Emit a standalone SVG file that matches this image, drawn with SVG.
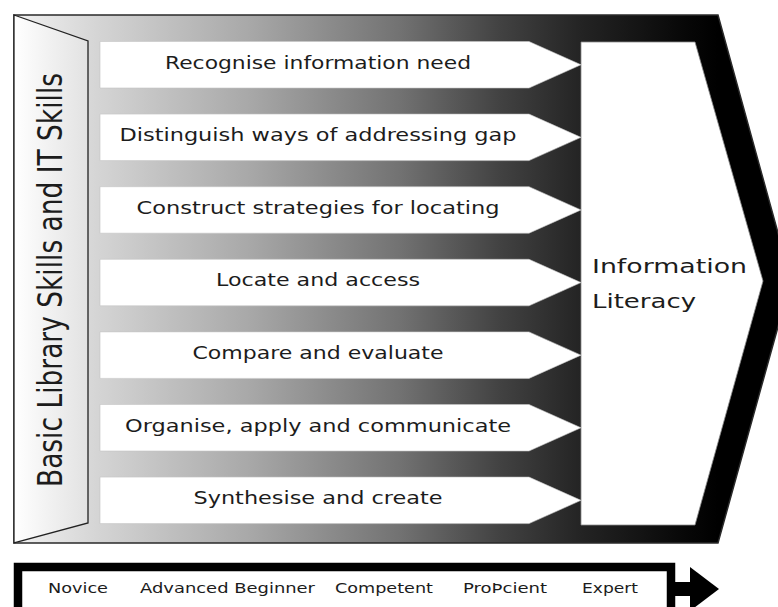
<svg xmlns="http://www.w3.org/2000/svg" width="778" height="607" viewBox="0 0 778 607">
  <defs>
    <linearGradient id="bandShade" gradientUnits="userSpaceOnUse" x1="14" y1="0" x2="718" y2="0">
      <stop offset="0" stop-color="#f2f2f2"/>
      <stop offset="0.122" stop-color="#d4d4d4"/>
      <stop offset="0.335" stop-color="#a8a8a8"/>
      <stop offset="0.548" stop-color="#727272"/>
      <stop offset="0.69" stop-color="#424242"/>
      <stop offset="0.804" stop-color="#242424"/>
      <stop offset="0.95" stop-color="#080808"/>
      <stop offset="1" stop-color="#000000"/>
    </linearGradient>
    <linearGradient id="panelShade" gradientUnits="userSpaceOnUse" x1="14" y1="0" x2="88" y2="0">
      <stop offset="0" stop-color="#ffffff"/>
      <stop offset="1" stop-color="#e2e2e2"/>
    </linearGradient>
  </defs>
  <style>
    .step { fill: #ffffff; stroke: #c4c4c4; stroke-width: 0.6; }
    .label { font-family: "DejaVu Sans", Verdana, sans-serif; fill: #1c1c1c; }
    .row { font-size: 17px; text-anchor: middle; }
    .goal { font-size: 20px; }
    .stage { font-size: 14px; }
  </style>

  <!-- large chevron carrying all the steps -->
  <g id="chevron">
    <polygon points="14,15 718,15 791,280 718,543 14,543" fill="url(#bandShade)" stroke="#2a2a2a" stroke-width="1.5"/>
  </g>

  <!-- left side panel -->
  <g id="basic-skills">
    <polygon points="14,15 88,41 88,523 14,543" fill="url(#panelShade)" stroke="#222" stroke-width="1.3"/>
    <text class="label" font-size="26" text-anchor="middle" textLength="414" lengthAdjust="spacingAndGlyphs" transform="translate(62,280) scale(1.3,1) rotate(-90)">Basic Library Skills and IT Skills</text>
  </g>

  <!-- goal box -->
  <g id="information-literacy">
    <polygon points="581,42 695,42 763,281 695,525 581,525" fill="#ffffff" stroke="#8a8a8a" stroke-width="0.8"/>
    <text class="label goal" x="592" y="273" textLength="155" lengthAdjust="spacingAndGlyphs">Information</text>
    <text class="label goal" x="592" y="308" textLength="104" lengthAdjust="spacingAndGlyphs">Literacy</text>
  </g>

  <!-- step arrows -->
  <g id="step-recognise">
    <polygon class="step" points="100,41.5 529,41.5 581,64.75 529,88 100,88"/>
    <text class="label row" x="318" y="68.5" textLength="306" lengthAdjust="spacingAndGlyphs">Recognise information need</text>
  </g>
  <g id="step-distinguish">
    <polygon class="step" points="100,114.1 529,114.1 581,137.35 529,160.6 100,160.6"/>
    <text class="label row" x="318" y="141.1" textLength="397" lengthAdjust="spacingAndGlyphs">Distinguish ways of addressing gap</text>
  </g>
  <g id="step-construct">
    <polygon class="step" points="100,186.7 529,186.7 581,209.95 529,233.2 100,233.2"/>
    <text class="label row" x="318" y="213.7" textLength="363" lengthAdjust="spacingAndGlyphs">Construct strategies for locating</text>
  </g>
  <g id="step-locate">
    <polygon class="step" points="100,259.3 529,259.3 581,282.55 529,305.8 100,305.8"/>
    <text class="label row" x="318" y="286.3" textLength="204" lengthAdjust="spacingAndGlyphs">Locate and access</text>
  </g>
  <g id="step-compare">
    <polygon class="step" points="100,331.9 529,331.9 581,355.15 529,378.4 100,378.4"/>
    <text class="label row" x="318" y="358.9" textLength="251" lengthAdjust="spacingAndGlyphs">Compare and evaluate</text>
  </g>
  <g id="step-organise">
    <polygon class="step" points="100,404.5 529,404.5 581,427.75 529,451 100,451"/>
    <text class="label row" x="318" y="431.5" textLength="386" lengthAdjust="spacingAndGlyphs">Organise, apply and communicate</text>
  </g>
  <g id="step-synthesise">
    <polygon class="step" points="100,477.1 529,477.1 581,500.35 529,523.6 100,523.6"/>
    <text class="label row" x="318" y="504.1" textLength="249" lengthAdjust="spacingAndGlyphs">Synthesise and create</text>
  </g>

  <!-- progression scale -->
  <g id="progression">
    <rect x="18" y="567" width="653" height="60" fill="#ffffff" stroke="#000" stroke-width="8.5"/>
    <rect x="674" y="582" width="17" height="14" fill="#000"/>
    <polygon points="690,567 719,589 690,611" fill="#000"/>
    <text class="label stage" x="48" y="593" textLength="60" lengthAdjust="spacingAndGlyphs">Novice</text>
    <text class="label stage" x="140" y="593" textLength="175" lengthAdjust="spacingAndGlyphs">Advanced Beginner</text>
    <text class="label stage" x="335" y="593" textLength="98" lengthAdjust="spacingAndGlyphs">Competent</text>
    <text class="label stage" x="463" y="593" textLength="84" lengthAdjust="spacingAndGlyphs">ProÞcient</text>
    <text class="label stage" x="582" y="593" textLength="56" lengthAdjust="spacingAndGlyphs">Expert</text>
  </g>

  <!-- connectors: the steps abut the goal box directly -->
  <g id="connectors"/>
</svg>
